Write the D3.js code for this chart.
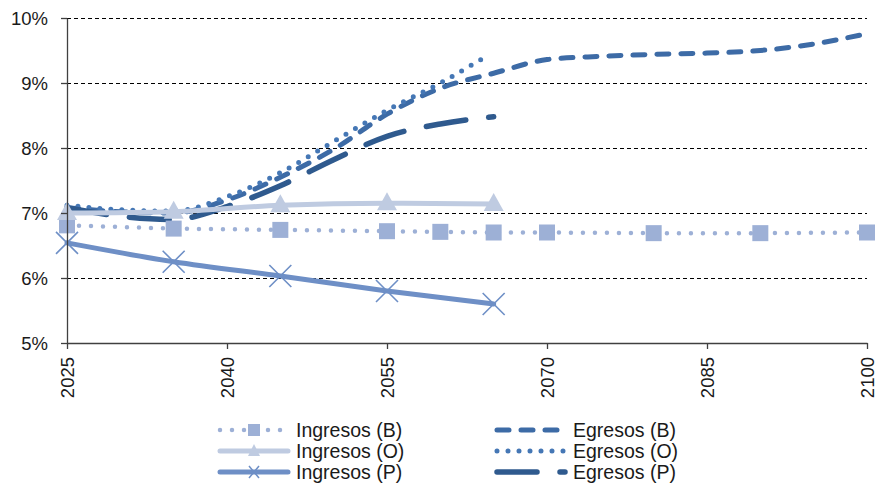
<!DOCTYPE html>
<meta charset="utf-8">
<style>
body { margin: 0; background: #fff; }
text { font-family: "Liberation Sans", Arial, sans-serif; fill: #1a1a1a; }
.grid line { stroke: #000; stroke-width: 1; stroke-dasharray: 4,3; shape-rendering: crispEdges; }
.axis path, .axis line { stroke: #404040; stroke-width: 1.3; }
.series { fill: none; stroke-linecap: round; stroke-linejoin: round; }
</style>
<body>
<script src="https://d3js.org/d3.v7.min.js"></script>
<script>

// data (percent)
var ingBYears = [2025, 2035, 2045, 2055, 2060, 2065, 2070, 2080, 2090, 2100];
var ingBVals  = [6.81, 6.76, 6.74, 6.72, 6.71, 6.70, 6.70, 6.69, 6.69, 6.70];

var ingOYears = [2025, 2035, 2045, 2055, 2065];
var ingOVals  = [7.00, 7.02, 7.12, 7.15, 7.14];

var ingPYears = [2025, 2035, 2045, 2055, 2065];
var ingPVals  = [6.54, 6.25, 6.03, 5.80, 5.60];

var egrBYears = [2025, 2030, 2035, 2040, 2045, 2050, 2055, 2060, 2065, 2070, 2075, 2080, 2085, 2090, 2095, 2100];
var egrBVals  = [7.08, 7.02, 7.00, 7.20, 7.55, 7.98, 8.52, 8.92, 9.15, 9.36, 9.41, 9.44, 9.46, 9.50, 9.60, 9.76];

var egrOYears = [2025, 2030, 2035, 2040, 2045, 2050, 2055, 2060, 2064];
var egrOVals  = [7.12, 7.05, 7.03, 7.25, 7.62, 8.10, 8.58, 9.00, 9.38];

var egrPYears = [2025, 2030, 2035, 2040, 2045, 2050, 2055, 2060, 2065];
var egrPVals  = [7.08, 6.95, 6.90, 7.10, 7.42, 7.82, 8.18, 8.37, 8.48];

var xTicks = [2025, 2040, 2055, 2070, 2085, 2100];
var yTicks = [5, 6, 7, 8, 9, 10];

var margin = {top: 18, right: 10, bottom: 144, left: 67},
    width = 867 - margin.left,
    height = 343 - margin.top;

var svg = d3.select("body").append("svg")
    .attr("width", 877)
    .attr("height", 487);

var g = svg.append("g")
    .attr("transform", "translate(" + margin.left + "," + margin.top + ")");

var x = d3.scaleLinear().domain([2025, 2100]).range([0, width]);
var y = d3.scaleLinear().domain([5, 10]).range([height, 0]);

// gridlines
g.append("g").attr("class", "grid")
  .selectAll("line")
  .data(yTicks.slice(1))
  .enter().append("line")
    .attr("x1", 0).attr("x2", width)
    .attr("y1", function(d) { return y(d) + 0.5; })
    .attr("y2", function(d) { return y(d) + 0.5; });

function zip(ys, vs) { return ys.map(function(yr, i) { return {year: yr, v: vs[i]}; }); }

var series = [
  {name: "Ingresos (B)", data: zip(ingBYears, ingBVals), color: "#9db0d6", w: 4.5, dash: "0,12", curve: d3.curveLinear, marker: "square"},
  {name: "Ingresos (O)", data: zip(ingOYears, ingOVals), color: "#bfcbe1", w: 5, dash: null, curve: d3.curveMonotoneX, marker: "triangle"},
  {name: "Ingresos (P)", data: zip(ingPYears, ingPVals), color: "#6e8fc6", w: 5, dash: null, curve: d3.curveMonotoneX, marker: "cross"},
  {name: "Egresos (B)", data: zip(egrBYears, egrBVals), color: "#3d6ba6", w: 5, dash: "12,12", curve: d3.curveMonotoneX, marker: null},
  {name: "Egresos (O)", data: zip(egrOYears, egrOVals), color: "#4577b5", w: 5, dash: "0,11", curve: d3.curveMonotoneX, marker: null},
  {name: "Egresos (P)", data: zip(egrPYears, egrPVals), color: "#2f5a8e", w: 5.5, dash: "40,23", curve: d3.curveMonotoneX, marker: null}
];

function drawMarker(sel, type, color) {
  if (type === "square") {
    sel.append("rect").attr("x", -8).attr("y", -8).attr("width", 16).attr("height", 16)
      .attr("fill", color);
  } else if (type === "triangle") {
    sel.append("path").attr("d", "M0,-11L10,7L-10,7Z").attr("fill", color);
  } else if (type === "cross") {
    sel.append("path").attr("d", "M-11,-11L11,11M-11,11L11,-11")
      .attr("stroke", color).attr("stroke-width", 1.6).attr("fill", "none");
  }
}

var drawOrder = [3, 4, 5, 0, 1, 2];
drawOrder.forEach(function(i) {
  var s = series[i];
  var line = d3.line()
      .x(function(d) { return x(d.year); })
      .y(function(d) { return y(d.v); })
      .curve(s.curve);
  g.append("path")
    .datum(s.data)
    .attr("class", "series")
    .attr("d", line)
    .attr("stroke", s.color)
    .attr("stroke-width", s.w)
    .attr("stroke-dasharray", s.dash);
  if (s.marker) {
    s.data.forEach(function(d) {
      var m = g.append("g").attr("transform", "translate(" + x(d.year) + "," + y(d.v) + ")");
      drawMarker(m, s.marker, s.color);
    });
  }
});

// y axis
var yAxis = g.append("g").attr("class", "axis")
  .call(d3.axisLeft(y).tickValues(yTicks).tickSize(6).tickSizeOuter(0)
    .tickFormat(function(d) { return d + "%"; }));
yAxis.selectAll("text").style("font-size", "18.5px").attr("x", -19).attr("dy", "0.35em");

// x axis
var xAxis = g.append("g").attr("class", "axis")
  .attr("transform", "translate(0," + height + ")")
  .call(d3.axisBottom(x).tickValues(xTicks).tickSize(6).tickSizeOuter(0)
    .tickFormat(d3.format("d")));
xAxis.selectAll("text")
  .style("font-size", "18.5px")
  .style("text-anchor", "end")
  .attr("transform", "rotate(-90)")
  .attr("x", -14).attr("y", 0).attr("dy", "0.35em");

// legend
var legendRows = [430, 451, 472];
series.forEach(function(s, i) {
  var col = i < 3 ? 0 : 1;
  var row = i % 3;
  var x0 = col === 0 ? 220 : 497, x1 = col === 0 ? 288 : 565;
  var tx = col === 0 ? 296 : 573;
  var ly = legendRows[row];
  svg.append("line")
    .attr("x1", x0).attr("x2", x1).attr("y1", ly).attr("y2", ly)
    .attr("stroke", s.color).attr("stroke-width", s.w)
    .attr("stroke-linecap", "round")
    .attr("stroke-dasharray", s.dash);
  if (s.marker) {
    var m = svg.append("g").attr("transform", "translate(" + ((x0 + x1) / 2) + "," + ly + ")");
    if (s.marker === "square") {
      m.append("rect").attr("x", -6).attr("y", -6).attr("width", 12).attr("height", 12).attr("fill", s.color);
    } else if (s.marker === "triangle") {
      m.append("path").attr("d", "M0,-7L6,5L-6,5Z").attr("fill", s.color);
    } else {
      m.append("path").attr("d", "M-5,-6L5,6M-5,6L5,-6").attr("stroke", s.color).attr("stroke-width", 1.5);
    }
  }
  svg.append("text")
    .attr("x", tx).attr("y", ly).attr("dy", "0.35em")
    .style("font-size", "19.5px")
    .text(s.name);
});

</script>
</body>
